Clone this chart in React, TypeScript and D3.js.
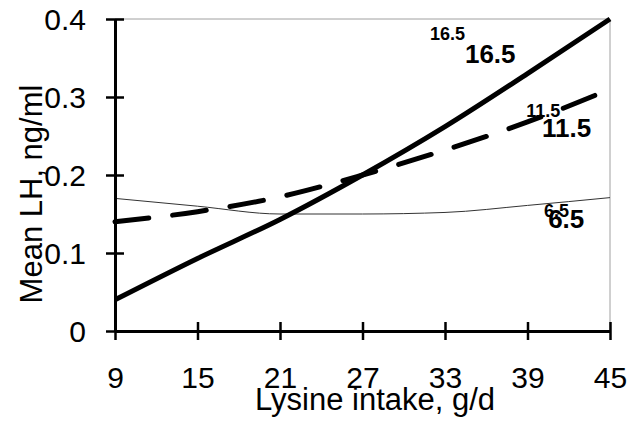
import * as d3 from "d3";
import { useEffect, useRef } from "react";

// x values (lysine intake, g/d)
const intake = [9, 15, 21, 27, 33, 39, 45];
// mean LH for each feed level
const lh165 = [0.04, 0.093, 0.143, 0.2, 0.262, 0.33, 0.4];
const lh115 = [0.14, 0.153, 0.172, 0.2, 0.232, 0.268, 0.31];
const lh65 = [0.17, 0.16, 0.15, 0.15, 0.152, 0.161, 0.171];
const xTicks = [9, 15, 21, 27, 33, 39, 45];
const yTicks = [0, 0.1, 0.2, 0.3, 0.4];

// series labels: small and large copies, anchored in data units
const labelText = ["16.5", "16.5", "11.5", "11.5", "6.5", "6.5"];
const labelX = [31.9, 34.45, 38.9, 40.05, 40.2, 40.5];
const labelY = [0.373, 0.344, 0.274, 0.249, 0.146, 0.132];
const labelBig = [false, true, false, true, false, true];

const W = 641;
const H = 421;
const left = 115;
const right = 610;
const top = 19;
const bottom = 331;
const FONT = "'Liberation Sans', Arial, sans-serif";

export default function App() {
  const svgRef = useRef<SVGSVGElement>(null);

  useEffect(() => {
    const svg = d3.select(svgRef.current);
    svg.selectAll("*").remove();

    const x = d3.scaleLinear().domain([9, 45]).range([left, right]);
    const y = d3.scaleLinear().domain([0, 0.4]).range([bottom, top]);

    // gray frame on top and right
    svg.append("path")
      .attr("d", `M${left},${top}H${right}V${bottom}`)
      .attr("fill", "none")
      .attr("stroke", "#a0a0a0")
      .attr("stroke-width", 1);

    const line = (vals: number[]) =>
      d3.line<number>()
        .x((_, i) => x(intake[i]))
        .y((d) => y(d))
        .curve(d3.curveMonotoneX)(vals);

    svg.append("path")
      .attr("d", line(lh65))
      .attr("fill", "none")
      .attr("stroke", "#333")
      .attr("stroke-width", 1);

    svg.append("path")
      .attr("d", line(lh115))
      .attr("fill", "none")
      .attr("stroke", "#000")
      .attr("stroke-width", 5)
      .attr("stroke-linecap", "round")
      .attr("stroke-dasharray", "34,24");

    svg.append("path")
      .attr("d", line(lh165))
      .attr("fill", "none")
      .attr("stroke", "#000")
      .attr("stroke-width", 5);

    // axes
    const yAxis = svg.append("g").attr("transform", `translate(${left},0)`)
      .call(d3.axisLeft(y).tickValues(yTicks).tickSizeInner(9).tickSizeOuter(0)
        .tickFormat((d) => (d === 0 ? "0" : d3.format(".1f")(d as number))));
    yAxis.select(".domain").attr("stroke-width", 3);
    yAxis.selectAll(".tick line").attr("x1", 9).attr("x2", -9).attr("stroke-width", 2.5);
    yAxis.selectAll(".tick text")
      .attr("x", -29)
      .attr("dy", "0.36em")
      .attr("font-size", 30)
      .attr("font-family", FONT);

    const xAxis = svg.append("g").attr("transform", `translate(0,${bottom})`)
      .call(d3.axisBottom(x).tickValues(xTicks).tickSizeInner(9).tickSizeOuter(0));
    xAxis.select(".domain").attr("stroke-width", 3);
    xAxis.selectAll(".tick line").attr("y1", -9).attr("y2", 9).attr("stroke-width", 2.5);
    xAxis.selectAll(".tick text")
      .attr("y", 57)
      .attr("dy", 0)
      .attr("font-size", 30)
      .attr("font-family", FONT);

    // axis titles
    svg.append("text")
      .attr("x", 375)
      .attr("y", 410)
      .attr("text-anchor", "middle")
      .attr("font-size", 31)
      .attr("font-family", FONT)
      .text("Lysine intake, g/d");

    svg.append("text")
      .attr("transform", "translate(42,194) rotate(-90)")
      .attr("text-anchor", "middle")
      .attr("font-size", 31)
      .attr("font-family", FONT)
      .text("Mean LH, ng/ml");

    // series labels
    svg.selectAll(".lbl")
      .data(labelText)
      .enter()
      .append("text")
      .attr("class", "lbl")
      .attr("x", (_, i) => x(labelX[i]))
      .attr("y", (_, i) => y(labelY[i]))
      .attr("font-size", (_, i) => (labelBig[i] ? 26 : 18))
      .attr("font-weight", "bold")
      .attr("font-family", FONT)
      .text((d) => d);
  }, []);

  return (
    <svg
      ref={svgRef}
      width={W}
      height={H}
      style={{ position: "absolute", left: 0, top: 0, background: "#fff" }}
    />
  );
}
